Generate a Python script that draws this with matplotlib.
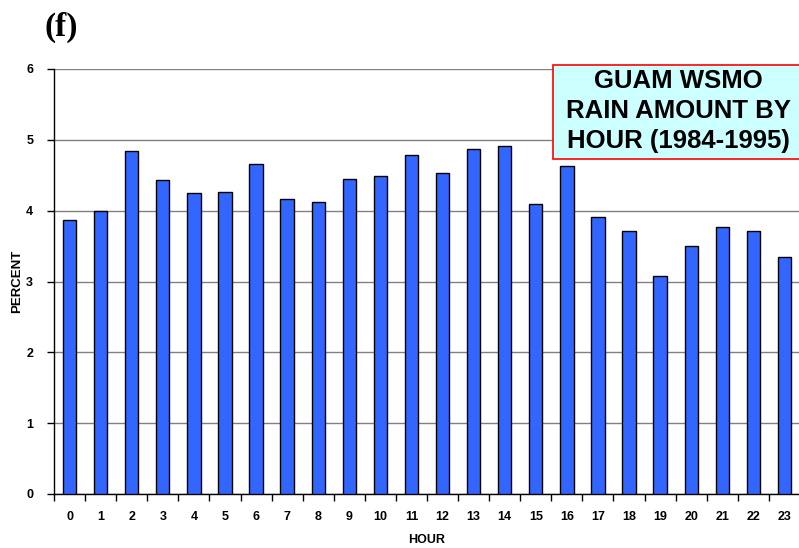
import matplotlib
matplotlib.use('Agg')
import matplotlib.pyplot as plt
import numpy as np
from matplotlib.patches import Rectangle

# hourly share of rain amount, Guam WSMO 1984-1995
hours = [str(h) for h in range(24)]
percent = [3.87, 4.00, 4.84, 4.43, 4.25, 4.26, 4.66, 4.16, 4.12, 4.45, 4.49, 4.79,
           4.53, 4.87, 4.91, 4.09, 4.63, 3.91, 3.71, 3.08, 3.50, 3.77, 3.71, 3.35]
yticks = [0, 1, 2, 3, 4, 5, 6]

plt.rcParams['font.family'] = ['Liberation Sans', 'DejaVu Sans']

fig = plt.figure(figsize=(7.99, 5.48), dpi=100)
ax = fig.add_axes([54 / 799, 54 / 548, 746 / 799, 425 / 548])

x = np.arange(len(hours))
ax.bar(x, percent, width=0.43, color='#3366FF', edgecolor='black', linewidth=1, zorder=3)

ax.set_xlim(-0.5, len(hours) - 0.5)
ax.set_ylim(0, 6)
ax.set_yticks(yticks)
ax.set_yticklabels([str(v) for v in yticks], fontsize=9, fontweight='bold')
ax.yaxis.grid(True, color='#808080', linewidth=1, zorder=0)

# labels centred under bars, tick marks between categories
ax.set_xticks(x)
ax.set_xticklabels(hours, fontsize=9, fontweight='bold')
ax.tick_params(axis='x', length=0, pad=12)
ax.set_xticks(np.arange(len(hours) + 1) - 0.5, minor=True)
ax.tick_params(axis='x', which='minor', length=5, direction='out', width=1)
ax.tick_params(axis='y', length=5, direction='out', width=1, pad=10)

for s in ['top', 'right']:
    ax.spines[s].set_visible(False)
ax.spines['left'].set_linewidth(1)
ax.spines['bottom'].set_linewidth(1)

ax.set_xlabel('HOUR', fontsize=9, fontweight='bold', labelpad=8)
fig.text(17 / 799, 1 - 281 / 548, 'PERCENT', fontsize=9.5, fontweight='bold',
         rotation=90, ha='center', va='center')

fig.text(45 / 799, 1 - 27 / 548, '(f)', fontsize=24, fontweight='bold',
         family='Liberation Serif', ha='left', va='center')

# annotation box, runs off the right edge as in the original
box = Rectangle((553 / 799, 1 - 159 / 548), 260 / 799, 94 / 548, transform=fig.transFigure,
                facecolor='#CCFFFF', edgecolor='red', linewidth=1.2, zorder=5)
fig.patches.append(box)
fig.text(678 / 799, 1 - 111 / 548, 'GUAM WSMO\nRAIN AMOUNT BY\nHOUR (1984-1995)',
         fontsize=18.5, fontweight='bold', ha='center', va='center', linespacing=1.32, zorder=6)

fig.savefig('out.png', dpi=100)
